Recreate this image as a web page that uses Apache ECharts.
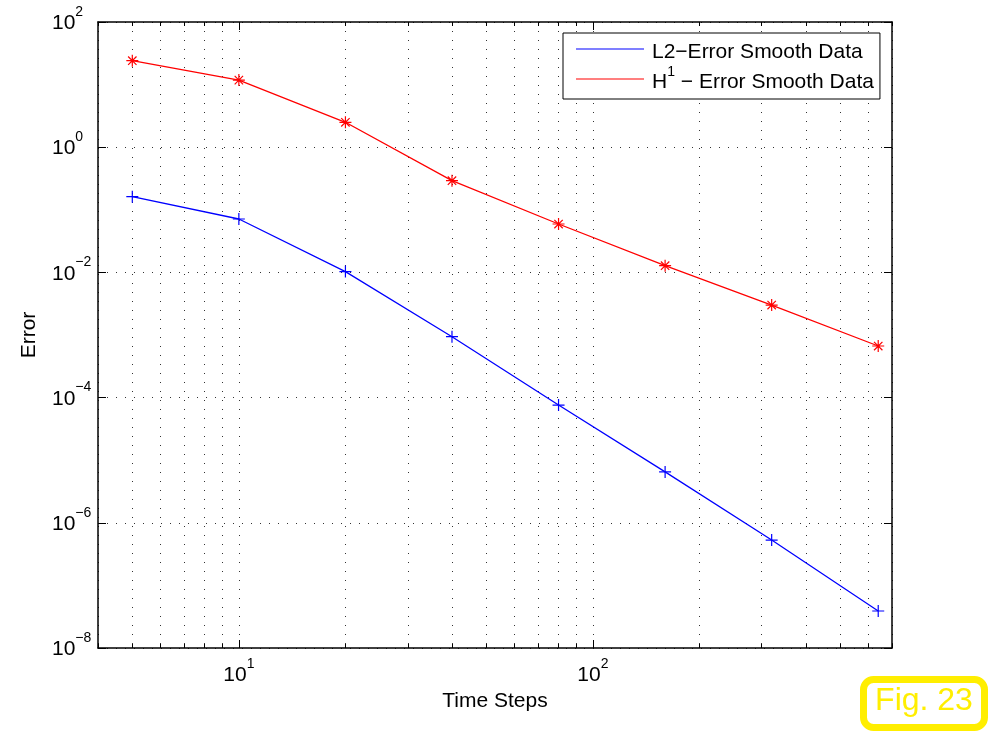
<!DOCTYPE html>
<html>
<head>
<meta charset="utf-8">
<title>Error vs Time Steps</title>
<script src="https://cdn.jsdelivr.net/npm/echarts@6/dist/echarts.min.js"></script>
<style>
  html, body { margin: 0; padding: 0; background: #fff; }
  #chart { width: 992px; height: 731px; }
</style>
</head>
<body>
<div id="chart"></div>
<script>
// Number of time steps (x) and the measured errors of both norms (y)
var timeSteps = [5, 10, 20, 40, 80, 160, 320, 640];
var l2Error = [0.162, 0.0713, 0.0103, 9.4e-4, 7.6e-5, 6.5e-6, 5.3e-7, 3.9e-8];
var h1Error = [24.1, 11.8, 2.50, 0.292, 0.0593, 0.0128, 0.00301, 6.67e-4];

// Axis ranges and tick positions
var xRange = [4, 700];
var yRange = [1e-8, 1e2];
var xMajorTicks = [10, 100];
var xMinorTicks = [4, 5, 6, 7, 8, 9, 10, 20, 30, 40, 50, 60, 70, 80, 90, 100, 200, 300, 400, 500, 600, 700];
var yMajorTicks = [1e-8, 1e-6, 1e-4, 1e-2, 1, 1e2];

var seriesNames = ['L2\u2212Error Smooth Data', 'H\u00b9 \u2212 Error Smooth Data'];

var FONT = '"Liberation Sans", Arial, Helvetica, sans-serif';
var BLUE = '#0000ff';
var RED = '#ff0000';

// power-of-ten label: "10" with a raised exponent
function powLabel(v) {
  var e = Math.round(Math.log10(v));
  var s = e < 0 ? '\u2212' + (-e) : String(e);
  return '{b|10}{s|' + s + '}';
}
var powRich = {
  b: { fontSize: 21, lineHeight: 29, verticalAlign: 'bottom', color: '#000', fontFamily: FONT },
  s: { fontSize: 14, lineHeight: 14, verticalAlign: 'top', color: '#000', fontFamily: FONT }
};

var gridDots = { color: '#333', width: 1, type: [1, 8] };
var frame = { show: true, onZero: false, lineStyle: { color: '#000', width: 1.5 } };

function xAxisDef(position, ticks, tickLen, primary) {
  return {
    type: 'log', position: position, min: xRange[0], max: xRange[1],
    axisLine: primary ? frame : { show: false },
    axisTick: { show: true, inside: true, length: tickLen, customValues: ticks,
                lineStyle: { color: '#000', width: 1 } },
    axisLabel: primary && position === 'bottom' ? {
      show: true, customValues: xMajorTicks, formatter: powLabel, rich: powRich, margin: 9
    } : { show: false },
    splitLine: primary && position === 'bottom' ? { show: true, lineStyle: gridDots } : { show: false },
    minorTick: { show: false }, minorSplitLine: { show: false }
  };
}

var xAxes = [
  xAxisDef('bottom', xMinorTicks, 4, true),
  xAxisDef('bottom', xMajorTicks, 8, false),
  xAxisDef('top', xMinorTicks, 4, true),
  xAxisDef('top', xMajorTicks, 8, false)
];
xAxes[0].name = 'Time Steps';
xAxes[0].nameLocation = 'middle';
xAxes[0].nameGap = 40;
xAxes[0].nameTextStyle = { fontSize: 21, color: '#000', fontFamily: FONT };

var yAxes = [
  {
    type: 'log', position: 'left', min: yRange[0], max: yRange[1],
    axisLine: frame,
    axisTick: { show: true, inside: true, length: 8, customValues: yMajorTicks, lineStyle: { color: '#000' } },
    axisLabel: { show: true, customValues: yMajorTicks, formatter: powLabel, rich: powRich,
                 align: 'left', margin: 46, padding: [0, 0, 5, 0] },
    splitLine: { show: true, lineStyle: gridDots },
    name: 'Error', nameLocation: 'middle', nameGap: 58,
    nameTextStyle: { fontSize: 21, color: '#000', fontFamily: FONT }
  },
  {
    type: 'log', position: 'right', min: yRange[0], max: yRange[1],
    axisLine: frame,
    axisTick: { show: true, inside: true, length: 8, customValues: yMajorTicks, lineStyle: { color: '#000' } },
    axisLabel: { show: false },
    splitLine: { show: false }
  }
];

var plusPath = 'path://M0,6H12M6,0V12';
var starPath = 'path://M0,6H12M6,0V12M1.8,1.8L10.2,10.2M10.2,1.8L1.8,10.2';

function pairs(ys) {
  return timeSteps.map(function (x, i) { return [x, ys[i]]; });
}

var chart = echarts.init(document.getElementById('chart'), null, { renderer: 'canvas' });
chart.setOption({
  animation: false,
  backgroundColor: '#fff',
  textStyle: { fontFamily: FONT },
  grid: { left: 98, right: 100, top: 22, bottom: 83, containLabel: false },
  xAxis: xAxes,
  yAxis: yAxes,
  legend: {
    orient: 'vertical', left: 563, top: 33,
    padding: [9, 6, 6, 13], itemGap: 2,
    itemWidth: 68, itemHeight: 1, icon: 'rect',
    itemStyle: { borderWidth: 0 },
    backgroundColor: '#fff', borderColor: '#000', borderWidth: 1,
    selectedMode: false,
    data: seriesNames,
    formatter: function (name) {
      if (name.indexOf('\u00b9') >= 0) {
        var parts = name.split('\u00b9');
        return '{t|' + parts[0] + '}{s|1}{t|' + parts[1] + '}';
      }
      return '{t|' + name + '}';
    },
    textStyle: {
      fontSize: 21, color: '#000', fontFamily: FONT, padding: [0, 0, 0, 3],
      rich: {
        t: { fontSize: 21, lineHeight: 28, verticalAlign: 'bottom', color: '#000', fontFamily: FONT },
        s: { fontSize: 14, lineHeight: 14, verticalAlign: 'top', color: '#000', fontFamily: FONT }
      }
    }
  },
  series: [
    {
      name: seriesNames[0], type: 'line', data: pairs(l2Error),
      xAxisIndex: 0, yAxisIndex: 0,
      symbol: plusPath, symbolSize: 12, showSymbol: true,
      lineStyle: { color: BLUE, width: 1.3 },
      itemStyle: { color: BLUE, borderColor: BLUE, borderWidth: 1.2 },
      emphasis: { disabled: true }
    },
    {
      name: seriesNames[1], type: 'line', data: pairs(h1Error),
      xAxisIndex: 0, yAxisIndex: 0,
      symbol: starPath, symbolSize: 12, showSymbol: true,
      lineStyle: { color: RED, width: 1.3 },
      itemStyle: { color: RED, borderColor: RED, borderWidth: 1.2 },
      emphasis: { disabled: true }
    }
  ],
  graphic: [
    {
      type: 'group', x: 860, y: 676,
      children: [
        { type: 'rect', shape: { x: 3.5, y: 3.5, width: 121, height: 48, r: 10 },
          style: { fill: '#fff', stroke: '#ffee00', lineWidth: 7 } },
        { type: 'text', x: 64, y: 25,
          style: { text: 'Fig. 23', fill: '#ffee00', font: '32px ' + FONT, align: 'center', verticalAlign: 'middle' } }
      ]
    }
  ]
});
</script>
</body>
</html>
